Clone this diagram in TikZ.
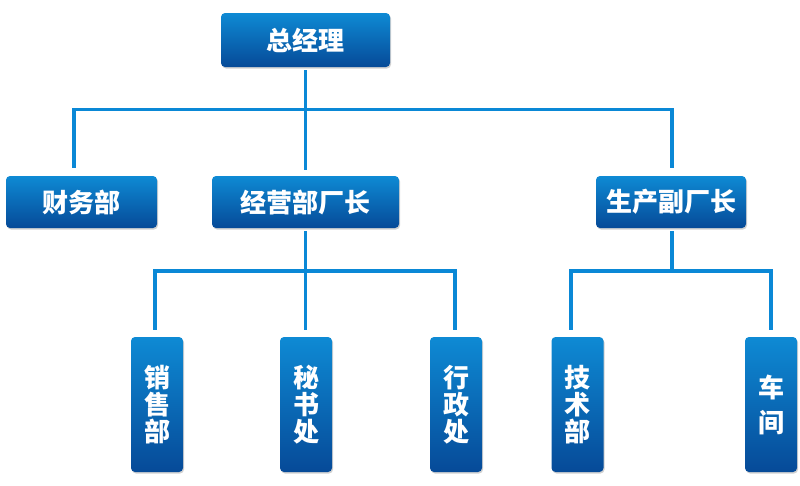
\documentclass[tikz,border=0pt]{standalone}
\usepackage{fontspec}
\newfontfamily\cjk{Noto Sans CJK SC}
\usetikzlibrary{shadows}
\definecolor{boxtop}{RGB}{14,138,212}
\definecolor{boxbot}{RGB}{6,74,152}
\definecolor{linec}{RGB}{10,136,214}
\tikzset{
  orgbox/.style={rounded corners=4pt, top color=boxtop, bottom color=boxbot, draw=none,
    text=white, font=\cjk\bfseries\fontsize{26}{27}\selectfont, inner sep=0pt,
    drop shadow={shadow xshift=1pt, shadow yshift=-1.5pt, opacity=0.3, fill=black!60}},
  hbox/.style={orgbox, minimum height=52pt},
  vbox/.style={orgbox, minimum width=52pt, minimum height=135pt, align=center},
  conn/.style={draw=linec, line width=3.5pt}
}
\begin{document}
\begin{tikzpicture}[x=1pt,y=-1pt]
\useasboundingbox (0,0) rectangle (800,485);
\node[hbox, minimum width=169pt, minimum height=54pt] (zjl) at (305.5,40) {总经理};
\node[hbox, minimum width=151pt] (cw) at (81.5,202) {财务部};
\node[hbox, minimum width=187pt] (jy) at (305.5,202) {经营部厂长};
\node[hbox, minimum width=150pt] (sc) at (671,202) {生产副厂长};
\node[vbox] (xs) at (157,404.5) {销\\售\\部};
\node[vbox] (ms) at (306,404.5) {秘\\书\\处};
\node[vbox] (xz) at (456,404.5) {行\\政\\处};
\node[vbox] (js) at (577.5,404.5) {技\\术\\部};
\node[vbox, font=\cjk\bfseries\fontsize{26}{35}\selectfont] (cj) at (771,404.5) {车\\间};
% bus junctions
\coordinate (b1) at (305.5,109.5);
\coordinate (b2) at (305.5,271);
\coordinate (b3) at (672,271);
% level 1
\draw[conn] ([yshift=-3pt]zjl.south) -- (b1);
\draw[conn] ([xshift=-7.5pt,yshift=8pt]cw.north) |- (b1);
\draw[conn] (b1) -| ([xshift=1pt,yshift=8pt]sc.north);
\draw[conn] (b1) -- ([yshift=6pt]jy.north);
% level 2
\draw[conn] ([yshift=-3pt]jy.south) -- (b2);
\draw[conn] ([xshift=-2pt,yshift=7pt]xs.north) |- (b2);
\draw[conn] (b2) -| ([xshift=-1pt,yshift=7pt]xz.north);
\draw[conn] (b2) -- ([xshift=-0.5pt,yshift=7pt]ms.north);
% level 3
\draw[conn] ([xshift=1pt,yshift=-3pt]sc.south) -- (b3);
\draw[conn] ([xshift=-6.5pt,yshift=7pt]js.north) |- (b3);
\draw[conn] (b3) -| ([yshift=7pt]cj.north);
\end{tikzpicture}
\end{document}
